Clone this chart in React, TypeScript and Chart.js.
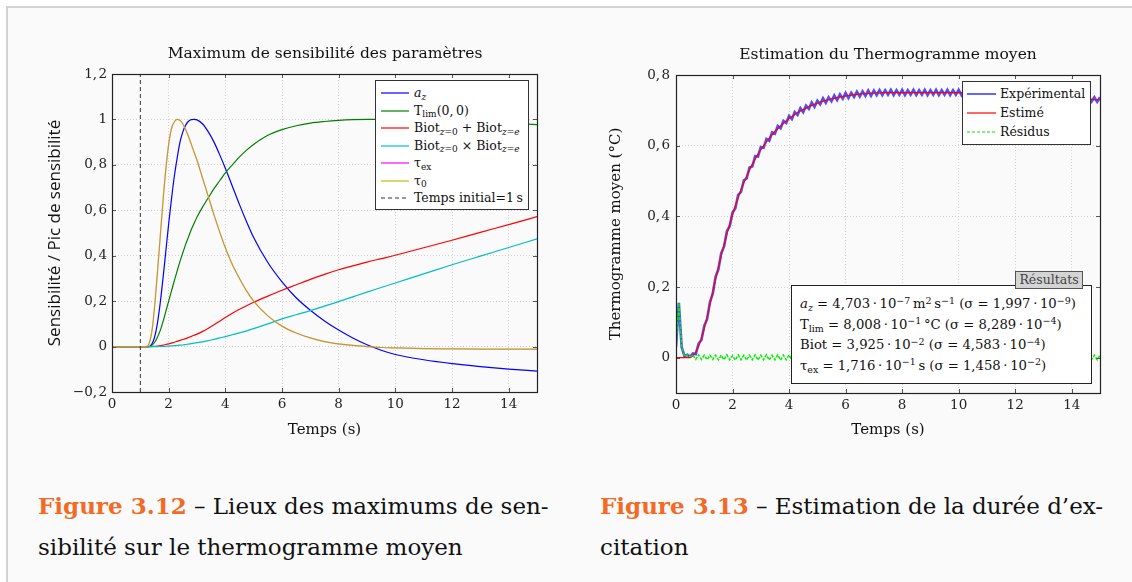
import React, { useEffect, useRef } from 'react';
import { Chart, registerables } from 'chart.js';

Chart.register(...registerables);

const SERIF = '"DejaVu Serif", serif';
const SANS = '"Open Sans", sans-serif';

// ---------- Left chart: normalised sensitivities ----------
const T1 = [0, 1, 1.2, 1.3, 1.4, 1.5, 1.6, 1.7, 1.8, 1.9, 2.0, 2.1, 2.2, 2.3, 2.4, 2.5, 2.6, 2.7, 2.8, 2.9, 3.0,
  3.2, 3.4, 3.6, 3.8, 4.0, 4.25, 4.5, 4.75, 5.0, 5.5, 6.0, 6.5, 7.0, 7.5, 8.0, 8.5, 9.0, 9.5, 10, 11, 12, 13, 14, 15];
const AZ = [0, 0, 0, 0, 0.01, 0.04, 0.10, 0.19, 0.30, 0.42, 0.54, 0.65, 0.75, 0.83, 0.90, 0.945, 0.975, 0.992, 0.999, 1.0, 0.998,
  0.98, 0.945, 0.90, 0.845, 0.785, 0.705, 0.625, 0.55, 0.48, 0.37, 0.285, 0.215, 0.16, 0.113, 0.073, 0.038, 0.008, -0.016, -0.035, -0.058, -0.075, -0.088, -0.099, -0.108];
const TLIM = [0, 0, 0, 0, 0.005, 0.018, 0.04, 0.07, 0.11, 0.155, 0.2, 0.245, 0.29, 0.333, 0.375, 0.413, 0.45, 0.483, 0.515, 0.543, 0.57,
  0.615, 0.655, 0.695, 0.73, 0.765, 0.80, 0.835, 0.865, 0.89, 0.93, 0.955, 0.972, 0.984, 0.991, 0.996, 0.999, 1.0, 1.0, 1.0, 0.998, 0.994, 0.989, 0.983, 0.977];
const BIOT_SUM = [0, 0, 0, 0, 0, 0.001, 0.002, 0.004, 0.006, 0.009, 0.012, 0.015, 0.019, 0.023, 0.027, 0.031, 0.035, 0.040, 0.045, 0.050, 0.055,
  0.067, 0.081, 0.096, 0.112, 0.128, 0.147, 0.164, 0.18, 0.195, 0.222, 0.248, 0.272, 0.296, 0.318, 0.338, 0.355, 0.372, 0.387, 0.402, 0.435, 0.468, 0.503, 0.537, 0.572];
const BIOT_PROD = [0, 0, 0, 0, 0, 0, 0, 0.0005, 0.001, 0.0015, 0.002, 0.003, 0.004, 0.005, 0.006, 0.007, 0.009, 0.011, 0.013, 0.015, 0.017,
  0.021, 0.026, 0.032, 0.038, 0.044, 0.052, 0.06, 0.069, 0.079, 0.1, 0.122, 0.14, 0.158, 0.178, 0.198, 0.219, 0.24, 0.26, 0.28, 0.32, 0.36, 0.398, 0.436, 0.474];
const TAU_EX = [0, 0, 0, 0.01, 0.06, 0.17, 0.32, 0.48, 0.64, 0.78, 0.89, 0.96, 0.99, 1.0, 0.995, 0.98, 0.955, 0.925, 0.89, 0.855, 0.82,
  0.74, 0.66, 0.58, 0.505, 0.435, 0.36, 0.30, 0.245, 0.2, 0.135, 0.09, 0.06, 0.038, 0.022, 0.012, 0.005, 0.0, -0.004, -0.006, -0.009, -0.01, -0.011, -0.011, -0.011];
const TAU_0 = [0, 0, 0, 0.012, 0.065, 0.178, 0.33, 0.49, 0.65, 0.785, 0.892, 0.961, 0.99, 1.0, 0.995, 0.98, 0.955, 0.925, 0.89, 0.855, 0.82,
  0.74, 0.66, 0.58, 0.505, 0.435, 0.36, 0.30, 0.245, 0.2, 0.135, 0.09, 0.06, 0.038, 0.022, 0.012, 0.005, 0.0, -0.004, -0.006, -0.009, -0.01, -0.011, -0.011, -0.011];
const T_INIT = 1;
const LEFT_X_TICKS = [0, 2, 4, 6, 8, 10, 12, 14];
const LEFT_Y_TICKS = [-0.2, 0, 0.2, 0.4, 0.6, 0.8, 1, 1.2];

// ---------- Right chart: mean thermogram ----------
const T2_STEP = 0.1;
const EST = [
  0, 0, 0, 0, 0, 0, 0.005, 0.015, 0.032, 0.055,
  0.083, 0.115, 0.150, 0.186, 0.222, 0.256, 0.289, 0.320, 0.350, 0.378,
  0.405, 0.430, 0.453, 0.475, 0.495, 0.514, 0.531, 0.547, 0.562, 0.576,
  0.589, 0.600, 0.611, 0.621, 0.631, 0.640, 0.648, 0.656, 0.663, 0.670,
  0.676, 0.682, 0.688, 0.693, 0.698, 0.702, 0.706, 0.710, 0.714, 0.717,
  0.720, 0.723, 0.726, 0.728, 0.730, 0.732, 0.734, 0.736, 0.738, 0.739,
  0.741, 0.742, 0.743, 0.744, 0.745, 0.746, 0.747, 0.747, 0.748, 0.748,
  0.749, 0.749, 0.749, 0.750, 0.750, 0.750, 0.750, 0.750, 0.750, 0.750,
  0.750, 0.750, 0.750, 0.750, 0.750, 0.750, 0.750, 0.750, 0.750, 0.750,
  0.750, 0.750, 0.750, 0.750, 0.750, 0.750, 0.750, 0.750, 0.750, 0.750,
  0.750, 0.750, 0.749, 0.749, 0.748, 0.748, 0.747, 0.747, 0.746, 0.746,
  0.745, 0.745, 0.744, 0.744, 0.743, 0.743, 0.742, 0.742, 0.742, 0.741,
  0.741, 0.740, 0.740, 0.739, 0.739, 0.739, 0.738, 0.738, 0.737, 0.737,
  0.737, 0.736, 0.736, 0.735, 0.735, 0.735, 0.734, 0.734, 0.734, 0.733,
  0.733, 0.733, 0.732, 0.732, 0.732, 0.731, 0.731, 0.731, 0.730, 0.730, 0.730,
];
const EXP = [
  0.030, 0.155, 0.030, 0.004, 0.008, 0.003, 0.012, 0.010, 0.040, 0.050,
  0.090, 0.109, 0.157, 0.181, 0.229, 0.250, 0.296, 0.314, 0.358, 0.372,
  0.411, 0.423, 0.461, 0.469, 0.502, 0.507, 0.538, 0.541, 0.570, 0.569,
  0.596, 0.594, 0.619, 0.614, 0.638, 0.634, 0.656, 0.649, 0.670, 0.664,
  0.684, 0.675, 0.695, 0.687, 0.706, 0.695, 0.713, 0.704, 0.722, 0.710,
  0.727, 0.717, 0.734, 0.721, 0.737, 0.726, 0.742, 0.729, 0.745, 0.733,
  0.749, 0.735, 0.750, 0.738, 0.753, 0.739, 0.754, 0.741, 0.756, 0.741,
  0.756, 0.743, 0.757, 0.743, 0.757, 0.744, 0.758, 0.743, 0.757, 0.744,
  0.758, 0.743, 0.757, 0.744, 0.758, 0.743, 0.757, 0.744, 0.758, 0.743,
  0.757, 0.744, 0.758, 0.743, 0.757, 0.744, 0.758, 0.743, 0.757, 0.744,
  0.758, 0.743, 0.756, 0.743, 0.755, 0.742, 0.754, 0.741, 0.753, 0.740,
  0.752, 0.739, 0.751, 0.738, 0.750, 0.737, 0.749, 0.736, 0.749, 0.735,
  0.748, 0.734, 0.747, 0.733, 0.746, 0.733, 0.745, 0.732, 0.744, 0.731,
  0.744, 0.730, 0.743, 0.729, 0.742, 0.729, 0.741, 0.728, 0.741, 0.727,
  0.740, 0.727, 0.739, 0.726, 0.739, 0.725, 0.738, 0.725, 0.737, 0.724, 0.737,
];
const RIGHT_X_TICKS = [0, 2, 4, 6, 8, 10, 12, 14];
const RIGHT_Y_TICKS = [0, 0.2, 0.4, 0.6, 0.8];

// ---------- helpers ----------
function fmt(v: number): string {
  if (Math.abs(v) < 1e-9) return '0';
  const a = Math.round(Math.abs(v) * 10) / 10;
  const s = String(a).replace('.', ',\u200A');
  return (v < 0 ? '\u2212' : '') + s;
}

const framePlugin = {
  id: 'pgfFrame',
  afterDatasetsDraw(chart: any) {
    const { ctx, chartArea: a, scales } = chart;
    const xs = scales.x;
    const ys = scales.y;
    ctx.save();
    ctx.strokeStyle = '#555';
    ctx.lineWidth = 1;
    ctx.beginPath();
    xs.ticks.forEach((t: any) => {
      const px = Math.round(xs.getPixelForValue(t.value)) + 0.5;
      ctx.moveTo(px, a.bottom);
      ctx.lineTo(px, a.bottom - 4);
      ctx.moveTo(px, a.top);
      ctx.lineTo(px, a.top + 4);
    });
    ys.ticks.forEach((t: any) => {
      const py = Math.round(ys.getPixelForValue(t.value)) + 0.5;
      ctx.moveTo(a.left, py);
      ctx.lineTo(a.left + 4, py);
      ctx.moveTo(a.right, py);
      ctx.lineTo(a.right - 4, py);
    });
    ctx.stroke();
    ctx.strokeStyle = '#222';
    ctx.lineWidth = 1.2;
    ctx.strokeRect(Math.round(a.left) + 0.5, Math.round(a.top) + 0.5, Math.round(a.width), Math.round(a.height));
    ctx.restore();
  },
};

type Layout = {
  yTitle: string;
  yTitleFont: any;
  yTitlePad: number;
  yAxisW: number;
  xAxisH: number;
  padRight: number;
  padTop: number;
  xTicks: number[];
  yTicks: number[];
  yMin: number;
  yMax: number;
  yTickPad: number;
};

function makeOptions(p: Layout): any {
  const tickFont = { family: SERIF, size: 13.5 };
  return {
    animation: false,
    responsive: false,
    maintainAspectRatio: false,
    layout: { padding: { left: 0, right: p.padRight, top: p.padTop, bottom: 0 } },
    elements: { point: { radius: 0 } },
    plugins: {
      legend: { display: false },
      tooltip: { enabled: false },
      title: { display: false },
    },
    scales: {
      x: {
        type: 'linear',
        min: 0,
        max: 15,
        afterFit: (s: any) => { s.height = p.xAxisH; },
        afterBuildTicks: (s: any) => { s.ticks = p.xTicks.map((v) => ({ value: v })); },
        grid: { color: '#c9c9c9', drawTicks: false, lineWidth: 0.8 },
        border: { display: false, dash: [1, 2] },
        ticks: { padding: 4, color: '#222', font: tickFont, maxRotation: 0, autoSkip: false, callback: (v: any) => fmt(Number(v)) },
        title: { display: true, text: 'Temps (s)', color: '#111', font: { family: SERIF, size: 15 }, padding: { top: 0, bottom: 11 } },
      },
      y: {
        type: 'linear',
        min: p.yMin,
        max: p.yMax,
        afterFit: (s: any) => { s.width = p.yAxisW; },
        afterBuildTicks: (s: any) => { s.ticks = p.yTicks.map((v) => ({ value: v })); },
        grid: { color: '#c9c9c9', drawTicks: false, lineWidth: 0.8 },
        border: { display: false, dash: [1, 2] },
        ticks: { padding: p.yTickPad, color: '#222', font: tickFont, autoSkip: false, callback: (v: any) => fmt(Number(v)) },
        title: { display: true, text: p.yTitle, color: '#111', font: p.yTitleFont, padding: { top: p.yTitlePad, bottom: 0 } },
      },
    },
  };
}

function leftConfig(): any {
  const series = [
    { values: AZ, color: '#0000ff' },
    { values: TLIM, color: '#008000' },
    { values: BIOT_SUM, color: '#ff0000' },
    { values: BIOT_PROD, color: '#00c0c0' },
    { values: TAU_EX, color: '#c9873c' },
    { values: TAU_0, color: 'rgba(191,191,0,0.25)' },
  ];
  const datasets: any[] = series.map((s, i) => ({
    data: T1.map((t, k) => ({ x: t, y: s.values[k] })),
    borderColor: s.color,
    borderWidth: 1.2,
    cubicInterpolationMode: 'monotone',
    pointRadius: 0,
    order: 20 - i,
  }));
  datasets.push({
    data: [{ x: T_INIT, y: LEFT_Y_TICKS[0] }, { x: T_INIT, y: LEFT_Y_TICKS[LEFT_Y_TICKS.length - 1] }],
    borderColor: '#333',
    borderWidth: 1,
    borderDash: [4, 3],
    tension: 0,
    pointRadius: 0,
    order: 1,
  });
  return {
    type: 'line',
    data: { datasets },
    options: makeOptions({
      yTitle: 'Sensibilité / Pic de sensibilité',
      yTitleFont: { family: SANS, size: 17 },
      yTitlePad: 25,
      yAxisW: 92,
      xAxisH: 58,
      padRight: 13,
      padTop: 44,
      xTicks: LEFT_X_TICKS,
      yTicks: LEFT_Y_TICKS,
      yMin: -0.2,
      yMax: 1.2,
      yTickPad: 5,
    }),
    plugins: [framePlugin],
  };
}

function rightConfig(): any {
  const t2 = EST.map((_, i) => Math.round(i * T2_STEP * 10) / 10);
  const residual = EXP.map((v, i) => v - EST[i]);
  const datasets = [
    { data: t2.map((t, i) => ({ x: t, y: EXP[i] })), borderColor: 'rgba(20,20,255,0.75)', borderWidth: 2.6, tension: 0, pointRadius: 0, order: 3 },
    { data: t2.map((t, i) => ({ x: t, y: EST[i] })), borderColor: '#ff0000', borderWidth: 1.2, tension: 0, pointRadius: 0, order: 2 },
    { data: t2.map((t, i) => ({ x: t, y: residual[i] })), borderColor: '#00f000', borderWidth: 1.5, borderDash: [3, 1.5], tension: 0, pointRadius: 0, order: 1 },
  ];
  return {
    type: 'line',
    data: { datasets },
    options: makeOptions({
      yTitle: 'Thermogramme moyen (°C)',
      yTitleFont: { family: SERIF, size: 15 },
      yTitlePad: 27,
      yAxisW: 96,
      xAxisH: 57,
      padRight: 20,
      padTop: 45,
      xTicks: RIGHT_X_TICKS,
      yTicks: RIGHT_Y_TICKS,
      yMin: -0.1,
      yMax: 0.8,
      yTickPad: 6,
    }),
    plugins: [framePlugin],
  };
}

function ChartCanvas({ make, left, top, width, height }: any) {
  const ref = useRef<HTMLCanvasElement | null>(null);
  useEffect(() => {
    if (!ref.current) return;
    const chart = new Chart(ref.current, make());
    return () => chart.destroy();
  }, []);
  return (
    <canvas
      ref={ref}
      width={width}
      height={height}
      style={{ position: 'absolute', left, top, width, height }}
    />
  );
}

const sub: any = { fontSize: '0.72em', position: 'relative', top: '0.32em', lineHeight: 0 };
const sup: any = { fontSize: '0.72em', position: 'relative', top: '-0.45em', lineHeight: 0 };

function Sample({ color, dash, w }: any) {
  return (
    <svg width={w} height={6} style={{ position: 'absolute', left: 0, top: 6 }}>
      <line x1={0} y1={3} x2={w} y2={3} stroke={color} strokeWidth={1.2} strokeDasharray={dash} />
    </svg>
  );
}

function LegendRow({ center, color, dash, children, sampleLeft, sampleW, textLeft, fontSize }: any) {
  return (
    <div style={{ position: 'absolute', left: sampleLeft, top: center - 9, height: 18, width: 200 }}>
      <Sample color={color} dash={dash} w={sampleW} />
      <span style={{ position: 'absolute', left: textLeft - sampleLeft, top: 0, lineHeight: '18px', whiteSpace: 'nowrap', fontSize }}>
        {children}
      </span>
    </div>
  );
}

function PlotTitle({ text, cx, cy }: any) {
  return (
    <div style={{ position: 'absolute', left: cx - 250, top: cy - 11, width: 500, height: 22, lineHeight: '22px', textAlign: 'center', fontSize: 15.5, whiteSpace: 'nowrap' }}>
      {text}
    </div>
  );
}

export default function App() {
  const leftRows = [
    { c: '#0000ff', el: <span><i>a</i><span style={sub}><i>z</i></span></span> },
    { c: '#008000', el: <span>T<span style={sub}>lim</span>(0,{'\u2009'}0)</span> },
    { c: '#ff0000', el: <span>Biot<span style={sub}><i>z</i>=0</span> + Biot<span style={sub}><i>z</i>=<i>e</i></span></span> },
    { c: '#00c0c0', el: <span>Biot<span style={sub}><i>z</i>=0</span> × Biot<span style={sub}><i>z</i>=<i>e</i></span></span> },
    { c: '#ff00ff', el: <span>τ<span style={sub}>ex</span></span> },
    { c: '#bfbf00', el: <span>τ<span style={sub}>0</span></span> },
    { c: '#333', dash: '4,3', el: <span>Temps initial=1{'\u2009'}s</span> },
  ];
  const rightRows = [
    { c: '#0000ff', el: <span>Expérimental</span> },
    { c: '#ff0000', el: <span>Estimé</span> },
    { c: '#00e600', dash: '3,2', el: <span>Résidus</span> },
  ];
  const dot = '\u2009·\u2009';
  const resultLines = [
    <span><i>a</i><span style={sub}><i>z</i></span> = 4,703{dot}10<span style={sup}>−7</span>{'\u2009'}m<span style={sup}>2</span>{'\u2009'}s<span style={sup}>−1</span> (σ = 1,997{dot}10<span style={sup}>−9</span>)</span>,
    <span>T<span style={sub}>lim</span> = 8,008{dot}10<span style={sup}>−1</span>{'\u2009'}°C (σ = 8,289{dot}10<span style={sup}>−4</span>)</span>,
    <span>Biot = 3,925{dot}10<span style={sup}>−2</span> (σ = 4,583{dot}10<span style={sup}>−4</span>)</span>,
    <span>τ<span style={sub}>ex</span> = 1,716{dot}10<span style={sup}>−1</span>{'\u2009'}s (σ = 1,458{dot}10<span style={sup}>−2</span>)</span>,
  ];
  const resultCenters = [18, 38.5, 59, 79.5];

  return (
    <div style={{ position: 'absolute', left: 0, top: 0, width: 1132, height: 582, background: '#ffffff', overflow: 'hidden', fontFamily: SERIF, color: '#111' }}>
      <div style={{ position: 'absolute', left: 6, top: 6, width: 1140, height: 600, background: '#fafafa', borderTop: '2px solid #d2d2d2', borderLeft: '2px solid #d2d2d2' }} />

      <ChartCanvas make={leftConfig} left={20} top={30} width={530} height={420} />
      <ChartCanvas make={rightConfig} left={580} top={30} width={540} height={420} />

      <PlotTitle text="Maximum de sensibilité des paramètres" cx={325} cy={53} />
      <PlotTitle text="Estimation du Thermogramme moyen" cx={888} cy={54} />

      {/* Left legend */}
      <div style={{ position: 'absolute', left: 375, top: 80, width: 154, height: 130, background: '#fff', border: '1px solid #333', boxSizing: 'border-box' }}>
        {leftRows.map((r, i) => (
          <LegendRow key={i} center={12 + i * 17.5} color={r.c} dash={r.dash} sampleLeft={5} sampleW={28} textLeft={38} fontSize={12.5}>
            {r.el}
          </LegendRow>
        ))}
      </div>

      {/* Right legend */}
      <div style={{ position: 'absolute', left: 962, top: 81, width: 129, height: 64, background: '#fff', border: '1px solid #333', boxSizing: 'border-box' }}>
        {rightRows.map((r, i) => (
          <LegendRow key={i} center={12 + i * 19} color={r.c} dash={r.dash} sampleLeft={4} sampleW={29} textLeft={37} fontSize={12.5}>
            {r.el}
          </LegendRow>
        ))}
      </div>

      {/* Results box */}
      <div style={{ position: 'absolute', left: 791, top: 285, width: 301, height: 99, background: '#fff', border: '1px solid #222', boxSizing: 'border-box' }}>
        {resultLines.map((el, i) => (
          <div key={i} style={{ position: 'absolute', left: 8, top: resultCenters[i] - 10, height: 20, lineHeight: '20px', whiteSpace: 'nowrap', fontSize: 13.2 }}>
            {el}
          </div>
        ))}
      </div>
      <div style={{ position: 'absolute', left: 1015, top: 271, width: 68, height: 18, background: '#d4d4d4', border: '1px solid #555', boxSizing: 'border-box', fontSize: 12.5, lineHeight: '16px', textAlign: 'center', color: '#444' }}>
        Résultats
      </div>

      {/* Captions */}
      <div style={{ position: 'absolute', left: 38, top: 485, fontSize: 23, lineHeight: '41px', whiteSpace: 'nowrap' }}>
        <div><b style={{ color: '#f26b26' }}>Figure 3.12</b> – Lieux des maximums de sen-</div>
        <div>sibilité sur le thermogramme moyen</div>
      </div>
      <div style={{ position: 'absolute', left: 600, top: 485, fontSize: 23, lineHeight: '41px', whiteSpace: 'nowrap' }}>
        <div><b style={{ color: '#f26b26' }}>Figure 3.13</b> – Estimation de la durée d’ex-</div>
        <div>citation</div>
      </div>
    </div>
  );
}
